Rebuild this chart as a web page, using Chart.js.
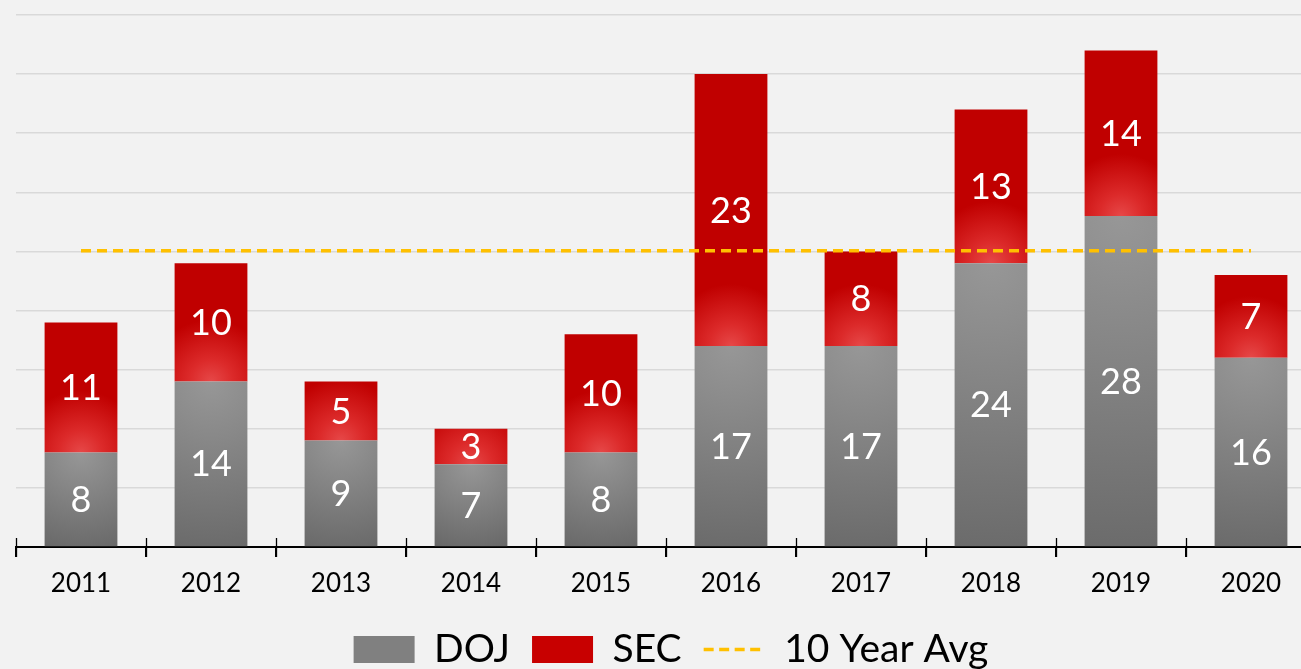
<!DOCTYPE html>
<html><head><meta charset="utf-8">
<script src="https://cdn.jsdelivr.net/npm/chart.js@4/dist/chart.umd.min.js"></script>
<style>
html,body{margin:0;padding:0;background:#f2f2f2;overflow:hidden;}
#wrap{width:1342px;height:679px;position:relative;}
</style></head><body>
<div id="wrap"><canvas id="c"></canvas></div>
<script>
const years = ['2011','2012','2013','2014','2015','2016','2017','2018','2019','2020'];
const dojCases = [8, 14, 9, 7, 8, 17, 17, 24, 28, 16];
const secCases = [11, 10, 5, 3, 10, 23, 8, 13, 14, 7];
const tenYearAvg = [25.05, 25.05, 25.05, 25.05, 25.05, 25.05, 25.05, 25.05, 25.05, 25.05];
const yMax = 45, yStep = 5;

const FONT = 'Lato, "Open Sans", sans-serif';
const BAR_FRAC = 0.56;

function segGeom(ctx) {
  const chart = ctx.chart;
  const xs = chart.scales.x, ys = chart.scales.y;
  if (!xs || !ys || !chart.chartArea) return null;
  const i = ctx.dataIndex;
  const cw = xs.getPixelForValue(1) - xs.getPixelForValue(0);
  const x = xs.getPixelForValue(i);
  const w = cw * BAR_FRAC;
  const base = ctx.datasetIndex === 1 ? dojCases[i] : 0;
  const val = ctx.datasetIndex === 1 ? secCases[i] : dojCases[i];
  const yb = ys.getPixelForValue(base);
  const yt = ys.getPixelForValue(base + val);
  if (!isFinite(x) || !isFinite(yb) || !isFinite(yt)) return null;
  return {x, w, yb, yt};
}

function dojColor(ctx) {
  if (ctx.type !== 'data') return '#7f7f7f';
  const g = segGeom(ctx);
  if (!g) return '#7f7f7f';
  const h = g.yb - g.yt;
  const r = Math.max(h, g.w) * 1.1;
  const grad = ctx.chart.ctx.createRadialGradient(g.x, g.yt, 0, g.x, g.yt, r);
  grad.addColorStop(0, '#979797');
  grad.addColorStop(1, '#676767');
  return grad;
}
function secColor(ctx) {
  if (ctx.type !== 'data') return '#c00000';
  const g = segGeom(ctx);
  if (!g) return '#c00000';
  const r = g.w * 0.85;
  const grad = ctx.chart.ctx.createRadialGradient(g.x, g.yb, 0, g.x, g.yb, r);
  grad.addColorStop(0, '#e64848');
  grad.addColorStop(0.35, '#dc2a2a');
  grad.addColorStop(1, '#c00000');
  return grad;
}

const valueLabels = {
  id: 'valueLabels',
  afterDatasetsDraw(chart) {
    const c = chart.ctx;
    c.save();
    c.fillStyle = '#ffffff';
    c.font = '36px ' + FONT;
    c.textAlign = 'center';
    c.textBaseline = 'middle';
    [0, 1].forEach(di => {
      const meta = chart.getDatasetMeta(di);
      const vals = chart.data.datasets[di].data;
      meta.data.forEach((el, i) => {
        c.fillText(String(vals[i]), el.x, (el.y + el.base) / 2 + 1);
      });
    });
    c.restore();
  }
};

const axisTicks = {
  id: 'axisTicks',
  afterDraw(chart) {
    const xs = chart.scales.x;
    const y0 = chart.chartArea.bottom;
    const c = chart.ctx;
    c.save();
    c.strokeStyle = '#000';
    c.lineWidth = 1.3;
    for (let k = 0; k <= years.length; k++) {
      const px = Math.round(xs.getPixelForValue(k - 0.5)) + 0.5;
      c.beginPath();
      c.moveTo(px, y0 - 9);
      c.lineTo(px, y0 + 10);
      c.stroke();
    }
    c.restore();
  }
};

new Chart(document.getElementById('c'), {
  type: 'bar',
  data: {
    labels: years,
    datasets: [
      { label: 'DOJ', data: dojCases, backgroundColor: dojColor, stack: 's', order: 1,
        barPercentage: BAR_FRAC, categoryPercentage: 1.0, borderWidth: 0 },
      { label: 'SEC', data: secCases, backgroundColor: secColor, stack: 's', order: 1,
        barPercentage: BAR_FRAC, categoryPercentage: 1.0, borderWidth: 0 },
      { type: 'line', label: '10 Year Avg', data: tenYearAvg, borderColor: '#ffc000',
        borderWidth: 3.5, borderDash: [10, 6], pointRadius: 0, fill: false, order: 0 }
    ]
  },
  options: {
    responsive: true,
    maintainAspectRatio: false,
    animation: false,
    layout: { padding: { left: 0, right: 0, top: 15, bottom: 0 } },
    plugins: {
      tooltip: { enabled: false },
      legend: {
        position: 'bottom',
        labels: {
          usePointStyle: true,
          pointStyleWidth: 61,
          boxHeight: 27,
          padding: 22,
          color: '#000',
          font: { family: FONT, size: 39 },
          generateLabels() {
            return [
              { text: 'DOJ', fillStyle: '#808080', strokeStyle: '#808080', lineWidth: 0, pointStyle: 'rect', fontColor: '#000' },
              { text: 'SEC', fillStyle: '#c80000', strokeStyle: '#c80000', lineWidth: 0, pointStyle: 'rect', fontColor: '#000' },
              { text: '10 Year Avg', fillStyle: 'rgba(0,0,0,0)', strokeStyle: '#ffc000', lineWidth: 3.5, lineDash: [10, 5.5], pointStyle: 'line', fontColor: '#000' }
            ];
          }
        }
      }
    },
    scales: {
      x: {
        stacked: true,
        afterFit(s) { s.height = 61; },
        grid: { display: true, drawOnChartArea: false, drawTicks: true, tickLength: 10, color: '#000', lineWidth: 1.3, offset: true },
        border: { display: true, color: '#000', width: 2 },
        ticks: { color: '#000', font: { family: FONT, size: 26 }, padding: 11, maxRotation: 0 }
      },
      y: {
        stacked: true,
        min: 0, max: yMax,
        afterFit(s) { s.width = 16; },
        grid: { color: '#d9d9d9', lineWidth: 1.5, drawTicks: false },
        border: { display: false },
        ticks: { display: false, stepSize: yStep }
      },
      yRight: {
        position: 'right',
        display: true,
        min: 0, max: yMax,
        afterFit(s) { s.width = 26; },
        grid: { display: false, drawOnChartArea: false, drawTicks: false },
        border: { display: false },
        ticks: { display: false }
      }
    }
  },
  plugins: [valueLabels, axisTicks]
});
</script>
</body></html>
